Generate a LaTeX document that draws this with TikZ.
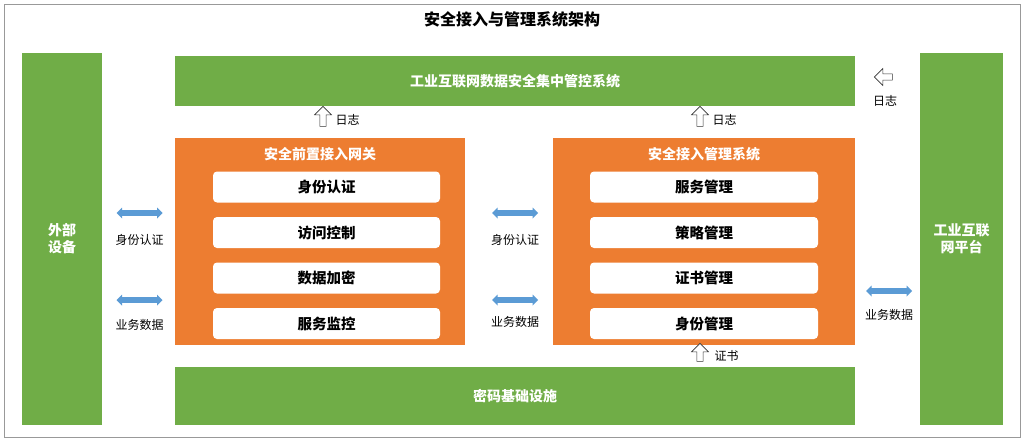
\documentclass[tikz,border=0pt]{standalone}
\usepackage{fontspec}
\setmainfont{Noto Sans CJK SC}
\usetikzlibrary{shapes.arrows}
\definecolor{gbox}{HTML}{70AD47}
\definecolor{obox}{HTML}{ED7D31}
\definecolor{barrow}{HTML}{5B9BD5}
\tikzset{
  green box/.style={fill=gbox, text=white, font=\bfseries\fontsize{14}{17}\selectfont, align=center},
  orange box/.style={fill=obox},
  item/.style={fill=white, rounded corners=4pt, minimum width=227pt, minimum height=31pt, font=\bfseries\fontsize{14.5}{17}\selectfont},
  both arrow/.style={double arrow, fill=barrow, minimum width=11pt, minimum height=46pt, double arrow head extend=2.5pt, inner sep=2.5pt},
  log arrow/.style={single arrow, draw=black!80, fill=white, minimum width=17pt, minimum height=20pt, single arrow head extend=3pt, inner sep=1.5pt, line width=0.6pt},
  lbl/.style={font=\fontsize{12}{14}\selectfont}
}
\begin{document}
\begin{tikzpicture}[x=1pt, y=-1pt]
    \useasboundingbox (0,0) rectangle (1024,441);
    \draw[black!40] (4,4) rectangle (1020,437);
    \node[font=\bfseries\fontsize{16}{19}\selectfont] (title) at (512,19) {安全接入与管理系统架构};

    % side and cross bars
    \node[green box, minimum width=80pt, minimum height=372pt] (ext) at (62,239) {外部\\设备};
    \node[green box, minimum width=83pt, minimum height=372pt] (plat) at (961.5,239) {工业互联\\网平台};
    \node[green box, minimum width=680pt, minimum height=50pt] (ctrl) at (515,81) {工业互联网数据安全集中管控系统};
    \node[green box, minimum width=680pt, minimum height=58pt] (crypto) at (515,396) {密码基础设施};

    % gateway
    \node[orange box, minimum width=290pt, minimum height=207pt] (gw) at (320,241.5) {};
    \node[text=white, font=\bfseries\fontsize{14}{17}\selectfont] (gwt) at (320,154) {安全前置接入网关};
    \foreach \t [count=\i] in {身份认证,访问控制,数据加密,服务监控}
      \node[item] (g\i) at (326.5,141.5+45.5*\i) {\t};

    % management system
    \node[orange box, minimum width=302pt, minimum height=207pt] (ms) at (704,241.5) {};
    \node[text=white, font=\bfseries\fontsize{14}{17}\selectfont] (mst) at (704,154) {安全接入管理系统};
    \foreach \t [count=\i] in {服务管理,策略管理,证书管理,身份管理}
      \node[item, minimum width=228pt] (m\i) at (704,141.5+45.5*\i) {\t};

    % data flows
    \node[both arrow] (a1) at (139.5,213) {};
    \node[lbl] (l1) at (139.5,240) {身份认证};
    \node[both arrow] (a2) at (139.5,300) {};
    \node[lbl] (l2) at (139.5,325) {业务数据};
    \node[both arrow] (a3) at (515,213) {};
    \node[lbl] (l3) at (515,240) {身份认证};
    \node[both arrow] (a4) at (515,300) {};
    \node[lbl] (l4) at (515,322) {业务数据};
    \node[both arrow] (a5) at (889,291) {};
    \node[lbl] (l5) at (889,315) {业务数据};

    % logs and certificates
    \node[log arrow, rotate=90] (u1) at (323,118) {};
    \node[lbl, anchor=west] (t1) at (332,120) {日志};
    \node[log arrow, rotate=90] (u2) at (700,118) {};
    \node[lbl, anchor=west] (t2) at (709,120) {日志};
    \node[log arrow, rotate=90, minimum height=18pt] (u3) at (700,354) {};
    \node[lbl, anchor=west] (t3) at (711,356) {证书};
    \node[log arrow, rotate=180, minimum height=18pt] (u4) at (885,77) {};
    \node[lbl] (t4) at (885,101) {日志};
\end{tikzpicture}
\end{document}
